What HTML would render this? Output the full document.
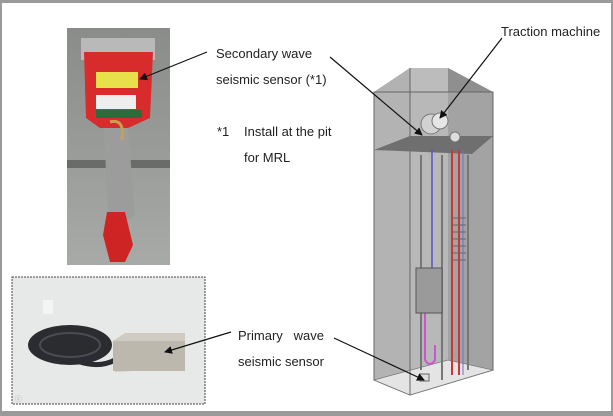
<!DOCTYPE html>
<html><head><style>
html,body{margin:0;padding:0;background:#fff}
svg{display:block}
text{font-family:"Liberation Sans",sans-serif;font-size:13px;fill:#222}
</style></head><body>
<svg width="613" height="416" viewBox="0 0 613 416" xmlns="http://www.w3.org/2000/svg">
<defs>
<marker id="ah" markerWidth="8" markerHeight="8" refX="7" refY="4" orient="auto" markerUnits="userSpaceOnUse"><path d="M0,0 L8,4 L0,8 z" fill="#111"/></marker>
<linearGradient id="floor" x1="0" y1="0" x2="0" y2="1"><stop offset="0" stop-color="#8a8c8a"/><stop offset="1" stop-color="#a8aaa8"/></linearGradient>
</defs>
<rect x="0" y="0" width="613" height="416" fill="#fff"/>
<rect x="0" y="0" width="613" height="3" fill="#9a9a9a"/>
<rect x="0" y="411" width="613" height="5" fill="#9a9a9a"/>
<rect x="0" y="0" width="2" height="416" fill="#9a9a9a"/>
<rect x="611" y="0" width="2" height="416" fill="#9a9a9a"/>

<!-- top photo -->
<rect x="67" y="28" width="103" height="237" fill="url(#floor)"/>
<rect x="67" y="160" width="103" height="8" fill="#6a6c6a"/>
<rect x="81" y="38" width="74" height="22" fill="#b9b9b9"/>
<path d="M84,52 L153,52 L150,118 L128,128 L100,128 L86,118 z" fill="#d82b2b"/>
<rect x="96" y="72" width="42" height="16" fill="#e8e04a"/>
<rect x="96" y="95" width="40" height="14" fill="#eee"/>
<rect x="96" y="110" width="46" height="8" fill="#2f6a3a"/>
<path d="M104,128 L128,128 L135,215 L120,225 L108,215 z" fill="#9c9c9c"/>
<path d="M107,212 L125,212 L133,245 L125,262 L110,262 L103,235 z" fill="#cf2424"/>
<path d="M110,122 Q125,118 122,140" stroke="#c9a050" stroke-width="3" fill="none"/>

<!-- bottom photo -->
<rect x="12" y="277" width="193" height="127" fill="#e7e9e8" stroke="#444" stroke-width="1" stroke-dasharray="2,1"/>
<ellipse cx="70" cy="345" rx="42" ry="20" fill="#2a2c30"/>
<ellipse cx="70" cy="345" rx="30" ry="12" fill="none" stroke="#4a4c55" stroke-width="2"/>
<rect x="43" y="300" width="10" height="14" fill="#f4f4f4"/>
<path d="M80,362 Q100,368 115,360" stroke="#2a2c30" stroke-width="5" fill="none"/>
<path d="M113,341 L125,333 L185,333 L185,368 L115,372 z" fill="#cfcbc2"/>
<rect x="113" y="341" width="72" height="30" fill="#bdb8ae"/>
<text x="15" y="401" style="font-size:7px;fill:#aaa">ⓒ</text>

<!-- shaft -->
<polygon points="410,68 448,68 493,92 374,92" fill="#707070"/>
<polygon points="374,92 410,68 410,395 374,380" fill="#b2b2b2"/>
<polygon points="410,68 448,68 448,370 410,380" fill="#bcbcbc"/>
<polygon points="448,68 493,92 493,370 448,360" fill="#8f8f8f"/>
<polygon points="374,92 493,92 493,370 410,395 374,380" fill="#b5b5b5" fill-opacity="0.55" stroke="#666" stroke-width="1"/>
<polygon points="374,380 448,360 493,370 410,395" fill="#e4e4e4" stroke="#777" stroke-width="0.8"/>
<line x1="410" y1="68" x2="410" y2="395" stroke="#666" stroke-width="1"/>
<!-- slab -->
<polygon points="374,178 410,164 493,164 472,182" fill="#6f6f6f" transform="translate(0,-28)"/>
<!-- machine -->
<circle cx="431" cy="124" r="10" fill="#d2d2d2" stroke="#777"/>
<circle cx="440" cy="121" r="8" fill="#e6e6e6" stroke="#777"/>
<circle cx="455" cy="137" r="5" fill="#ddd" stroke="#777"/>
<!-- rails -->
<line x1="421" y1="155" x2="421" y2="370" stroke="#777" stroke-width="2"/>
<line x1="442" y1="155" x2="442" y2="380" stroke="#777" stroke-width="2"/>
<line x1="468" y1="155" x2="468" y2="370" stroke="#777" stroke-width="2"/>
<line x1="432" y1="150" x2="432" y2="300" stroke="#5555cc" stroke-width="1.5"/>
<line x1="452" y1="150" x2="452" y2="375" stroke="#c83838" stroke-width="2"/>
<line x1="459" y1="150" x2="459" y2="375" stroke="#c83838" stroke-width="2"/>
<line x1="463" y1="150" x2="463" y2="375" stroke="#7070cc" stroke-width="1"/>
<path d="M425,282 L425,360 Q430,368 435,360 L435,345" stroke="#cc55cc" stroke-width="2" fill="none"/>
<g stroke="#666" stroke-width="1"><line x1="453" y1="218" x2="466" y2="218"/><line x1="453" y1="225" x2="466" y2="225"/><line x1="453" y1="232" x2="466" y2="232"/><line x1="453" y1="239" x2="466" y2="239"/><line x1="453" y1="246" x2="466" y2="246"/><line x1="453" y1="253" x2="466" y2="253"/><line x1="453" y1="260" x2="466" y2="260"/></g>
<rect x="416" y="268" width="26" height="45" fill="#9a9a9a" stroke="#555"/>
<rect x="420" y="374" width="9" height="7" fill="#ddd" stroke="#666"/>

<!-- labels -->
<text x="216" y="58">Secondary wave</text>
<text x="216" y="84">seismic sensor (*1)</text>
<text x="217" y="136">*1</text>
<text x="244" y="136">Install at the pit</text>
<text x="244" y="162">for MRL</text>
<text x="501" y="36">Traction machine</text>
<text x="238" y="340">Primary&#160;&#160;&#160;wave</text>
<text x="238" y="366">seismic sensor</text>

<!-- arrows -->
<g stroke="#111" stroke-width="1.2" fill="none" marker-end="url(#ah)">
<line x1="207" y1="52" x2="140" y2="79"/>
<line x1="330" y1="57" x2="422" y2="135"/>
<line x1="502" y1="38" x2="440" y2="118"/>
<line x1="231" y1="332" x2="165" y2="352"/>
<line x1="334" y1="338" x2="424" y2="380"/>
</g>
</svg>
</body></html>
